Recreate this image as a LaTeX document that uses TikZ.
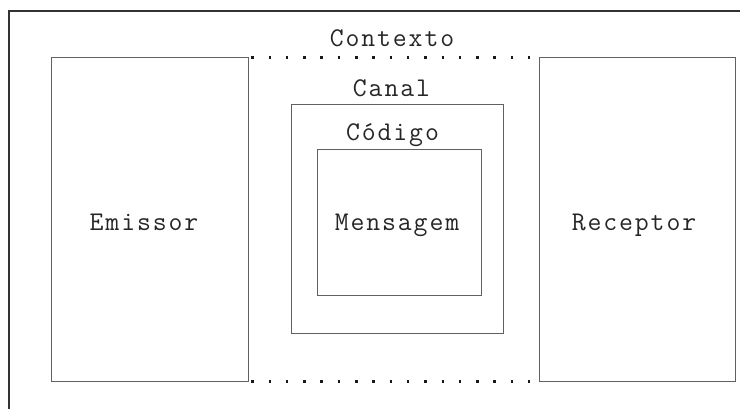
\documentclass[tikz,border=0pt]{standalone}
\usepackage{fontspec}
\setmonofont{Latin Modern Mono}[LetterSpace=7]
\begin{document}
\begin{tikzpicture}[x=1pt,y=-1pt,
  box/.style={draw=black!62, line width=1pt, inner sep=0pt},
  lbl/.style={font=\ttfamily\fontsize{27}{29}\selectfont, text=black!85, inner sep=0pt, anchor=base},
  frame/.style={draw=black!80, line width=1.5pt},
  ctx/.style={draw=black!90, line width=2.5pt, dash pattern=on 2.5pt off 14.8pt}]
  \useasboundingbox (0,0) rectangle (740,409);
  % open outer frame
  \draw[frame] (9,409) -- (9,11) -- (740,11);
  % sender and receiver
  \node[box, minimum width=197pt, minimum height=323pt] (emissor) at (149.5,219.5) {};
  \node[box, minimum width=196pt, minimum height=323pt] (receptor) at (637,219.5) {};
  \node[lbl] (emissorlbl) at (144,231) {Emissor};
  \node[lbl] (receptorlbl) at (634,231) {Receptor};
  % channel and code
  \node[box, minimum width=212pt, minimum height=228pt] (canal) at (397,219) {};
  \node[box, minimum width=164pt, minimum height=146pt] (codigo) at (399,223) {};
  \node[lbl] (mensagemlbl) at (397,231) {Mensagem};
  \node[lbl] (canallbl) at (391.5,97) {Canal};
  \node[lbl] (codigolbl) at (392.5,141) {Código};
  \node[lbl] (contextolbl) at (392,47) {Contexto};
  % context, dotted between sender and receiver
  \draw[ctx, shorten <=2.75pt, shorten >=8.5pt] (emissor.north east) -- (receptor.north west);
  \draw[ctx, shorten <=2.75pt, shorten >=8.5pt] (emissor.south east) -- (receptor.south west);
\end{tikzpicture}
\end{document}
